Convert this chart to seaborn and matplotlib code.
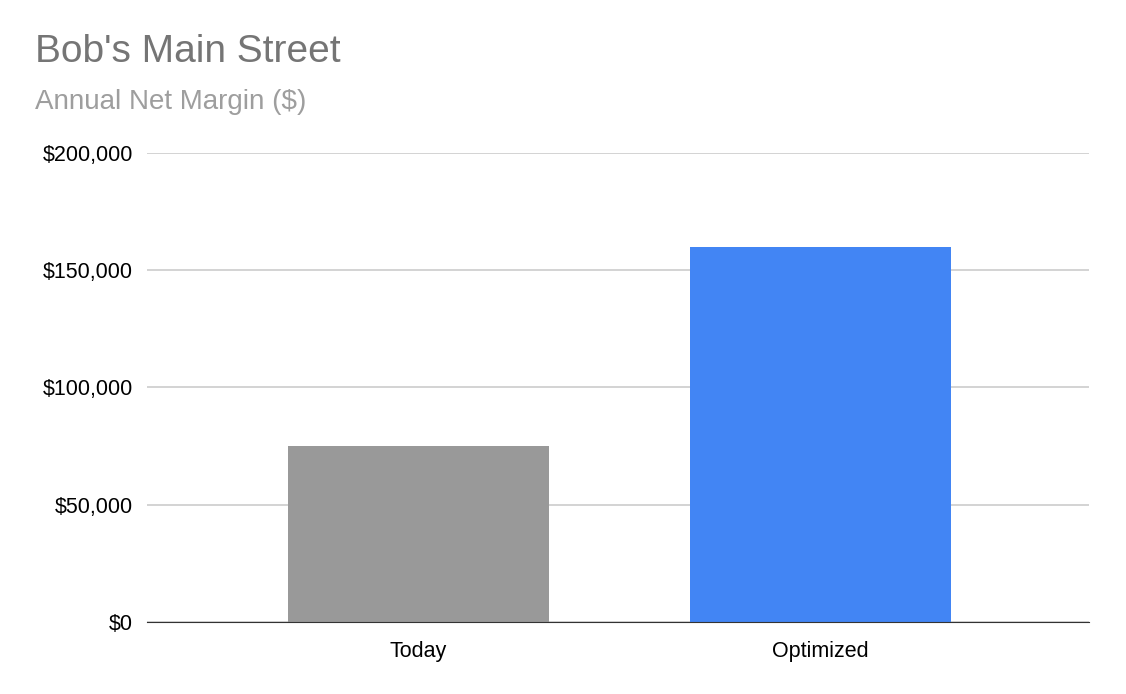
import matplotlib
matplotlib.use("Agg")
import matplotlib.pyplot as plt
import seaborn as sns
import pandas as pd

# data
categories = ["Today", "Optimized"]
values = [75000, 160000]
bar_colors = ["#999999", "#4285f4"]

df = pd.DataFrame({"scenario": categories, "margin": values})

sns.set_style("white")
plt.rcParams["font.family"] = ["Liberation Sans", "DejaVu Sans"]

fig = plt.figure(figsize=(11.26, 6.94), dpi=100)
ax = fig.add_axes([0.1305, 0.1037, 0.837, 0.676])

sns.barplot(data=df, x="scenario", y="margin", hue="scenario",
            palette=bar_colors, width=0.65, saturation=1, legend=False,
            linewidth=0, ax=ax)

ax.set_ylim(0, 200000)
ax.set_xlim(-0.675, 1.67)
ax.set_yticks([0, 50000, 100000, 150000, 200000])
ax.set_yticklabels(["$0", "$50,000", "$100,000", "$150,000", "$200,000"])
ax.yaxis.grid(True, color="#cccccc", linewidth=1.2)
ax.set_axisbelow(True)
for s in ["top", "right", "left"]:
    ax.spines[s].set_visible(False)
ax.spines["bottom"].set_color("#333333")
ax.tick_params(axis="both", length=0, labelsize=15.5, colors="black")
ax.tick_params(axis="x", pad=14)
ax.tick_params(axis="y", pad=10)
ax.set_xlabel("")
ax.set_ylabel("")

fig.text(0.031, 0.925, "Bob's Main Street", fontsize=28, color="#757575", va="center")
fig.text(0.031, 0.853, "Annual Net Margin ($)", fontsize=20, color="#9e9e9e", va="center")

fig.savefig("out.png", dpi=100)
